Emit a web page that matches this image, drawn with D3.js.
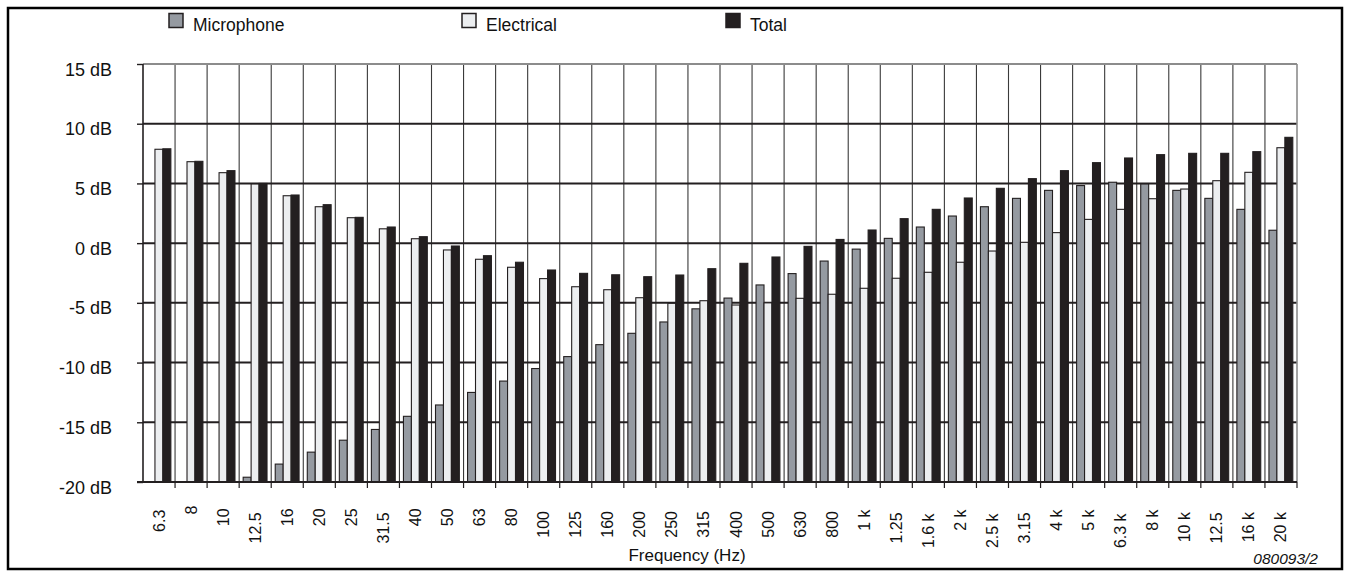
<!DOCTYPE html>
<html>
<head>
<meta charset="utf-8">
<script src="https://cdn.jsdelivr.net/npm/d3@7"></script>
<style>
  html, body { margin: 0; padding: 0; background: #fff; }
  svg { display: block; font-family: "Liberation Sans", Arial, sans-serif; }
</style>
</head>
<body>
<svg id="chart" width="1350" height="573"></svg>
<script>
// ---- data ----
const categories = ["6.3","8","10","12.5","16","20","25","31.5","40","50","63","80","100","125","160","200","250","315","400","500","630","800","1 k","1.25","1.6 k","2 k","2.5 k","3.15","4 k","5 k","6.3 k","8 k","10 k","12.5","16 k","20 k"];
const seriesNames = ["Microphone", "Electrical", "Total"];
const microphone = [null, null, null, -19.6, -18.5, -17.5, -16.5, -15.6, -14.5, -13.55, -12.5, -11.55, -10.5, -9.5, -8.5, -7.55, -6.6, -5.5, -4.6, -3.5, -2.55, -1.5, -0.5, 0.4, 1.35, 2.27, 3.05, 3.75, 4.42, 4.82, 5.1, 4.95, 4.42, 3.75, 2.83, 1.08];
const electrical = [7.86, 6.82, 5.9, 4.95, 3.97, 3.05, 2.13, 1.2, 0.37, -0.57, -1.35, -2.02, -2.97, -3.65, -3.9, -4.57, -5.04, -4.82, -5.18, -5.0, -4.62, -4.28, -3.78, -2.94, -2.44, -1.6, -0.66, 0.07, 0.88, 1.99, 2.83, 3.72, 4.53, 5.23, 5.93, 7.99];
const total = [7.9, 6.85, 6.07, 5.0, 4.03, 3.22, 2.16, 1.35, 0.54, -0.24, -1.05, -1.6, -2.25, -2.53, -2.65, -2.81, -2.67, -2.14, -1.69, -1.16, -0.27, 0.31, 1.1, 2.05, 2.83, 3.78, 4.59, 5.4, 6.07, 6.74, 7.13, 7.41, 7.52, 7.52, 7.66, 8.86];
const yTicks = [15, 10, 5, 0, -5, -10, -15, -20];
const yTickLabels = ["15 dB", "10 dB", "5 dB", "0 dB", "-5 dB", "-10 dB", "-15 dB", "-20 dB"];
const xTitle = "Frequency (Hz)";
const figureCode = "080093/2";

// ---- styles ----
const colors = ["#959aa1", "#eceef0", "#231f20"];
const ink = "#231f20";

const svg = d3.select("#chart");
const pLeft = 143, pRight = 1297, pTop = 64, pBottom = 482;

const x = d3.scaleBand().domain(d3.range(categories.length)).range([pLeft, pRight]).padding(0);
const bw = x.bandwidth();
const x1 = d3.scaleBand().domain(d3.range(3)).range([4, bw - 4.2]).padding(0);
const y = d3.scaleLinear().domain([-20, 15]).range([pBottom, pTop]);

// outer frame
svg.append("rect").attr("x", 8).attr("y", 8).attr("width", 1334).attr("height", 561)
  .attr("fill", "none").attr("stroke", "#000").attr("stroke-width", 2.5);

// vertical grid lines at band boundaries
const bounds = d3.range(1, categories.length).map(i => x(i));
svg.append("g").selectAll("line").data(bounds).join("line")
  .attr("x1", d => d).attr("x2", d => d)
  .attr("y1", y(15)).attr("y2", y(-20))
  .attr("stroke", "#3a3a3a").attr("stroke-width", 1.1);

// horizontal grid lines
svg.append("g").selectAll("line").data(yTicks.filter(v => v !== -20 && v !== 15)).join("line")
  .attr("x1", pLeft).attr("x2", pRight)
  .attr("y1", d => y(d)).attr("y2", d => y(d))
  .attr("stroke", ink).attr("stroke-width", 2);
svg.append("line").attr("x1", pLeft).attr("x2", pRight).attr("y1", y(15)).attr("y2", y(15))
  .attr("stroke", "#8c8c8c").attr("stroke-width", 2);
svg.append("line").attr("x1", pRight).attr("x2", pRight).attr("y1", y(15)).attr("y2", y(-20))
  .attr("stroke", "#8c8c8c").attr("stroke-width", 1.6);

// bars
const seriesData = [microphone, electrical, total];
const barG = svg.append("g");
seriesData.forEach((vals, s) => {
  barG.append("g").selectAll("rect")
    .data(vals.map((v, i) => ({ v, i })).filter(d => d.v !== null))
    .join("rect")
    .attr("x", d => x(d.i) + x1(s))
    .attr("width", x1.bandwidth())
    .attr("y", d => y(Math.max(d.v, -20)))
    .attr("height", d => y(-20) - y(Math.max(d.v, -20)))
    .attr("fill", colors[s])
    .attr("stroke", ink)
    .attr("stroke-width", 1.1);
});

// y axis
const yAxis = d3.axisLeft(y).tickValues(yTicks).tickSize(6).tickFormat((d, i) => yTickLabels[i]);
const yg = svg.append("g").attr("transform", `translate(${pLeft},0)`).call(yAxis);
yg.select(".domain").attr("stroke", ink).attr("stroke-width", 1.6).attr("d", `M0,${pTop}V${pBottom}`);
yg.selectAll(".tick line").attr("stroke", ink).attr("stroke-width", 1.4);
yg.selectAll(".tick text").attr("x", -31).attr("dy", "0.95em").attr("y", -6)
  .attr("font-size", 18).attr("fill", "#111").attr("font-family", "Liberation Sans, Arial, sans-serif");

// x axis (ticks at band boundaries)
const xg = svg.append("g");
xg.append("line").attr("x1", pLeft - 6).attr("x2", pRight).attr("y1", pBottom).attr("y2", pBottom)
  .attr("stroke", ink).attr("stroke-width", 2);
xg.selectAll("line.tk").data(d3.range(1, categories.length + 1).map(i => i < categories.length ? x(i) : pRight)).join("line")
  .attr("class", "tk")
  .attr("x1", d => d).attr("x2", d => d).attr("y1", pBottom).attr("y2", pBottom + 6)
  .attr("stroke", ink).attr("stroke-width", 1.2);
const lbl = xg.selectAll("text.cat").data(categories).join("text")
  .attr("class", "cat")
  .attr("font-size", 16).attr("fill", "#111")
  .attr("text-anchor", "end")
  .attr("dominant-baseline", "central")
  .text(d => d);
lbl.each(function (d, i) {
  const len = this.getComputedTextLength();
  const topY = 503 + 0.3 * len;
  const cx = x(i) + bw / 2;
  d3.select(this).attr("transform", `translate(${cx},${topY}) rotate(-90)`);
});

// axis title
svg.append("text").attr("x", 687).attr("y", 561).attr("text-anchor", "middle")
  .attr("font-size", 17).attr("fill", "#111").text(xTitle);

// figure code
svg.append("text").attr("x", 1318).attr("y", 564).attr("text-anchor", "end")
  .attr("font-size", 15.5).attr("font-style", "italic").attr("fill", "#111").text(figureCode);

// legend
const legendX = [169, 462, 726];
const lg = svg.append("g");
seriesNames.forEach((name, s) => {
  lg.append("rect").attr("x", legendX[s]).attr("y", 13.5).attr("width", 14).attr("height", 14)
    .attr("fill", colors[s]).attr("stroke", ink).attr("stroke-width", 1.5);
  lg.append("text").attr("x", legendX[s] + 24).attr("y", 30.5)
    .attr("font-size", 17.5).attr("fill", "#111").text(name);
});
</script>
</body>
</html>
